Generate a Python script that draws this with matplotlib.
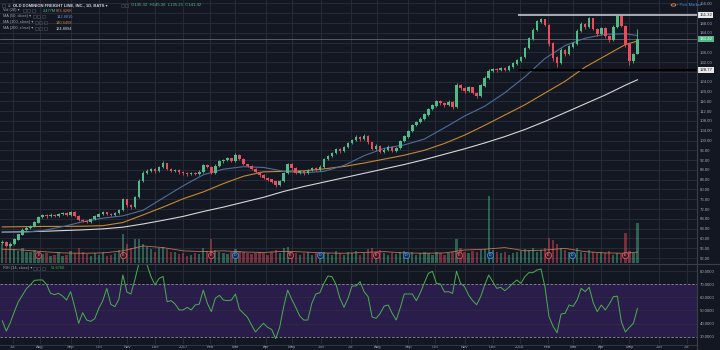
import numpy as np
import matplotlib
matplotlib.use("Agg")
import matplotlib.pyplot as plt
from matplotlib.patches import Rectangle
from matplotlib.transforms import blended_transform_factory

# ---------------- data ----------------
# session index: 0 = first trading day of Jul 2016; one candle per 3 sessions
FIRST_SESSION = -8
STEP = 3
first_open = 58.0

closes = [
    58.5, 57.0, 57.8, 59.5, 61.5, 63.5, 64.2, 64.8, 66.5, 68.8,
    69.5, 69.0, 69.6, 69.2, 69.8, 70.2, 69.5, 70.8, 69.2, 67.6,
    67.2, 66.9, 67.8, 68.9, 69.8, 70.6, 70.0, 69.5, 70.3, 71.5,
    75.8, 73.6, 72.8, 76.8, 83.5, 86.8, 87.6, 88.2, 87.4, 89.0,
    90.8, 88.2, 87.6, 87.9, 87.0, 86.6, 86.2, 86.8, 86.5, 87.2,
    89.8, 89.2, 86.8, 89.6, 91.5, 92.0, 92.6, 91.6, 94.0, 92.4,
    90.2, 89.6, 88.4, 87.2, 85.8, 84.6, 84.0, 83.2, 81.8, 83.4,
    86.6, 90.4, 88.6, 86.8, 87.4, 86.6, 87.8, 88.6, 87.9, 89.2,
    92.4, 93.6, 94.8, 96.4, 95.6, 97.2, 98.8, 100.2, 101.4, 100.6,
    101.8, 99.2, 96.6, 97.8, 95.4, 96.2, 97.4, 95.8, 96.8, 99.8,
    101.6, 103.8, 106.2, 107.4, 108.8, 110.6, 112.8, 114.2, 116.0, 115.2,
    114.4, 115.8, 113.6, 122.6, 121.4, 120.2, 121.6, 119.4, 118.2, 122.4,
    125.6, 128.4, 129.2, 128.6, 129.6, 128.9, 130.2, 131.4, 132.6, 134.0,
    137.8, 141.6, 145.2, 148.6, 149.4, 147.2, 139.6, 133.8, 131.6, 136.8,
    135.4, 138.4, 139.6, 144.8, 147.6, 146.2, 149.8, 145.6, 143.4, 145.8,
    142.6, 141.2, 146.4, 150.6, 146.8, 139.2, 132.4, 135.32, 141.42,
]
highs = [
    59.2, 58.9, 58.4, 60.1, 62.0, 64.1, 64.9, 65.4, 67.1, 69.3,
    70.1, 70.0, 70.2, 70.0, 70.4, 70.8, 70.6, 71.4, 71.0, 69.5,
    68.0, 67.6, 68.3, 69.4, 70.3, 71.2, 70.9, 70.4, 70.8, 72.1,
    76.6, 76.2, 74.0, 77.4, 84.2, 87.5, 88.3, 88.9, 88.6, 89.6,
    91.6, 91.0, 88.6, 88.5, 88.2, 87.4, 87.0, 87.3, 87.2, 87.8,
    90.5, 90.3, 89.5, 90.2, 92.1, 92.6, 93.2, 92.9, 94.8, 94.3,
    92.7, 90.6, 89.9, 88.8, 87.5, 86.2, 85.0, 84.4, 83.5, 83.9,
    87.2, 91.0, 90.8, 89.0, 88.0, 87.8, 88.4, 89.2, 89.0, 89.8,
    93.0, 94.2, 95.4, 97.0, 96.9, 97.8, 99.4, 100.8, 102.1, 101.9,
    102.5, 102.1, 99.5, 98.4, 98.1, 96.8, 98.0, 97.7, 97.4, 100.4,
    102.2, 104.4, 106.8, 108.0, 109.4, 111.2, 113.4, 114.9, 116.7, 116.4,
    115.6, 116.4, 116.1, 123.6, 123.2, 121.8, 122.2, 121.9, 119.8, 123.0,
    126.2, 129.1, 129.8, 129.6, 130.2, 130.0, 130.8, 132.0, 133.2, 134.6,
    138.4, 142.3, 145.9, 149.3, 150.2, 149.8, 147.6, 140.2, 134.4, 137.6,
    137.4, 139.0, 140.4, 145.6, 148.3, 148.1, 150.6, 150.2, 146.1, 146.4,
    146.2, 143.2, 147.1, 151.3, 151.1, 147.3, 139.6, 135.9, 145.36,
]
lows = [
    57.6, 56.3, 56.6, 57.4, 59.2, 61.2, 63.0, 63.8, 64.5, 66.2,
    68.4, 68.5, 68.6, 68.8, 68.9, 69.4, 69.1, 69.2, 68.8, 67.1,
    66.6, 66.3, 66.5, 67.5, 68.6, 69.4, 69.5, 69.0, 69.1, 70.0,
    71.2, 73.0, 72.2, 72.5, 76.5, 83.1, 86.2, 87.1, 86.8, 87.0,
    88.7, 87.8, 87.0, 87.1, 86.5, 86.0, 85.7, 85.8, 86.0, 86.1,
    86.9, 88.7, 86.2, 86.5, 89.2, 91.0, 91.6, 91.1, 91.3, 91.9,
    89.8, 89.0, 87.9, 86.7, 85.2, 84.1, 83.4, 82.7, 81.2, 81.5,
    83.1, 86.3, 88.0, 86.3, 86.3, 86.1, 86.2, 87.4, 87.4, 87.6,
    88.9, 92.0, 93.2, 94.4, 95.0, 95.2, 96.8, 98.4, 99.8, 100.0,
    100.2, 98.6, 96.0, 96.2, 94.8, 94.9, 95.8, 95.2, 95.3, 96.5,
    99.4, 101.2, 103.4, 105.8, 107.0, 108.4, 110.2, 112.4, 113.8, 114.6,
    113.8, 114.0, 112.9, 113.2, 120.8, 119.6, 119.8, 118.8, 117.4, 117.9,
    122.0, 125.2, 127.9, 128.0, 128.2, 128.3, 128.5, 129.8, 131.0, 132.2,
    133.7, 137.4, 141.2, 144.8, 148.0, 146.6, 138.8, 132.4, 130.2, 131.2,
    134.6, 135.0, 137.8, 139.2, 144.3, 145.6, 145.8, 145.0, 142.8, 143.0,
    141.9, 140.4, 140.8, 146.0, 146.2, 138.4, 131.0, 131.8, 135.25,
]
# daily volume, millions of shares
volumes = [
    1.15, 0.95, 1.05, 0.85, 0.75, 0.9, 0.65, 0.7, 0.8, 0.6,
    0.55, 0.6, 0.45, 0.5, 0.7, 0.45, 0.5, 0.75, 0.6, 0.9,
    0.65, 0.55, 0.45, 0.6, 0.5, 0.7, 0.45, 0.5, 0.6, 0.8,
    1.8, 1.2, 0.95, 1.45, 1.5, 1.2, 1.0, 0.85, 0.7, 0.9,
    1.0, 0.85, 0.65, 0.7, 0.55, 0.6, 0.45, 0.5, 0.6, 0.55,
    0.95, 0.75, 1.45, 0.8, 0.7, 0.6, 0.55, 0.65, 0.85, 0.75,
    0.7, 0.6, 0.55, 0.6, 0.7, 0.6, 0.5, 0.65, 0.8, 0.6,
    0.9, 1.0, 0.7, 0.6, 0.5, 0.6, 0.65, 0.5, 0.6, 0.5,
    0.7, 0.6, 0.5, 0.75, 0.6, 0.5, 0.65, 0.6, 0.75, 0.5,
    0.6, 0.85, 0.95, 0.7, 0.8, 0.6, 0.5, 0.6, 0.55, 0.7,
    0.75, 0.6, 0.7, 0.5, 0.6, 0.65, 0.6, 0.5, 0.7, 0.6,
    0.5, 0.6, 0.7, 1.5, 0.9, 0.7, 0.6, 0.75, 0.7, 0.8,
    0.85, 4.1, 0.8, 0.7, 0.6, 0.65, 0.5, 0.6, 0.7, 0.75,
    0.85, 0.8, 0.95, 0.7, 0.8, 0.9, 1.55, 1.4, 1.2, 0.9,
    0.8, 0.7, 0.6, 0.9, 0.7, 0.6, 0.8, 0.7, 0.6, 0.65,
    0.6, 0.75, 0.5, 0.6, 0.55, 1.85, 0.75, 0.6, 2.477,
]
rsi = [
    42.2, 34.3, 40.7, 49.1, 56.7, 61.6, 66.6, 69.7, 73.0, 73.3,
    73.3, 70.0, 63.1, 62.1, 63.1, 61.0, 58.0, 64.4, 52.9, 40.2,
    48.3, 42.7, 41.7, 43.7, 51.6, 57.5, 66.9, 54.7, 52.9, 58.5,
    77.1, 64.1, 62.6, 73.8, 86.0, 88.0, 85.0, 75.8, 69.4, 74.5,
    76.0, 56.7, 57.5, 54.9, 50.4, 50.4, 52.4, 50.4, 54.2, 54.9,
    65.6, 55.5, 49.1, 59.3, 61.6, 58.0, 57.5, 58.0, 62.6, 50.9,
    47.8, 44.8, 38.9, 33.6, 37.1, 40.2, 37.1, 35.6, 28.5, 37.1,
    52.9, 65.6, 58.5, 52.4, 45.8, 42.7, 42.7, 55.5, 62.6, 63.6,
    70.7, 76.3, 75.8, 70.0, 59.3, 52.4, 59.3, 68.7, 68.7, 72.0,
    64.4, 60.5, 45.0, 44.0, 47.8, 53.4, 54.2, 47.8, 42.7, 52.0,
    62.6, 62.6, 62.6, 57.5, 63.6, 71.2, 78.4, 79.9, 70.7, 70.2,
    64.1, 64.4, 63.0, 80.0, 70.7, 68.2, 61.8, 57.5, 54.4, 60.5,
    69.4, 77.1, 72.0, 66.9, 67.7, 65.1, 67.7, 70.7, 73.3, 70.7,
    75.8, 78.9, 78.9, 80.9, 81.7, 68.0, 45.3, 38.0, 33.0, 47.3,
    47.8, 54.2, 53.2, 58.0, 66.9, 64.4, 67.7, 56.0, 49.1, 54.2,
    50.4, 54.9, 60.5, 61.0, 41.4, 33.6, 37.1, 40.2, 51.676,
]
# moving averages, one value every 5th candle plus the last candle
MA_EVERY = 5
ma50 = [62.7, 62.5, 63.2, 64.8, 66.8, 68.3, 69.2, 71.5, 76.5, 81.5,
        86.0, 88.3, 89.3, 89.0, 87.4, 86.8, 87.4, 89.8, 93.8, 96.8,
        98.2, 100.6, 105.2, 110.0, 114.0, 119.5, 126.0, 133.5, 138.8, 141.8,
        143.4, 143.6, 142.881]
ma100 = [64.7, 64.8, 64.9, 64.9, 65.0, 65.2, 66.5, 69.6, 72.8, 76.2,
         79.0, 82.4, 85.4, 87.2, 87.4, 87.6, 88.4, 89.4, 90.8, 92.4,
         94.0, 96.0, 98.8, 102.2, 106.2, 110.4, 114.6, 119.4, 124.2, 130.0,
         134.6, 139.2, 140.6498]
ma200 = [62.6, 62.7, 62.9, 63.2, 63.5, 63.9, 64.6, 65.9, 67.4, 69.0,
         71.0, 72.8, 74.8, 76.8, 79.2, 81.2, 83.0, 84.8, 86.6, 88.4,
         90.2, 92.2, 94.4, 96.6, 99.0, 101.6, 104.5, 107.8, 111.4, 115.0,
         118.6, 122.6, 124.8094]
vol_ma = [0.85, 0.8, 0.7, 0.62, 0.6, 0.62, 0.75, 1.05, 0.95, 0.75,
          0.7, 0.75, 0.68, 0.65, 0.72, 0.68, 0.62, 0.6, 0.65, 0.7,
          0.62, 0.6, 0.62, 0.8, 0.85, 0.95, 0.75, 0.8, 0.9, 0.7,
          0.62, 0.6, 0.673426]

month_sessions = [0, 20, 43, 64, 85, 106, 127, 147, 166, 189, 208, 230, 252,
                  272, 295, 315, 337, 358, 378, 399, 418, 439, 460, 482, 503]
month_labels = ["Jul", "Aug", "Sep", "Oct", "Nov", "Dec", "2017", "Feb", "Mar",
                "Apr", "May", "Jun", "Jul", "Aug", "Sep", "Oct", "Nov", "Dec",
                "2018", "Feb", "Mar", "Apr", "May", "Jun", "Jul"]
earnings_sessions = [19, 82, 148, 207, 271, 333, 399, 457]
dividend_sessions = [166, 229, 293, 356, 417]

resistance = 151.32
support = 128.77
level_start_session = 377

price_ticks = list(range(52, 157, 4))
rsi_ticks = [30, 40, 50, 60, 70, 80]

# ---------------- style ----------------
BG = "#131722"
GRID = "#2a2e3b"
TEXT = "#a3a6af"
UP = "#53b987"
DOWN = "#eb4d5c"
C_MA50 = "#4f6d9a"
C_MA100 = "#c7882e"
C_MA200 = "#d6d6d6"
C_VOLMA = "#d9825b"
RSI_LINE = "#4caf50"
RSI_BAND = "#2a1d4c"
plt.rcParams["font.family"] = ["Liberation Sans", "DejaVu Sans"]

W, H = 720, 350
fig = plt.figure(figsize=(W / 100, H / 100), dpi=100, facecolor=BG)


def axes_px(x0, y0, x1, y1, **kw):
    return fig.add_axes([x0 / W, 1 - y1 / H, (x1 - x0) / W, (y1 - y0) / H], **kw)


PLOT_RIGHT = 697
# horizontal mapping: pixel = 13 + 1.34 * session
X_LEFT = -13 / 1.34
X_RIGHT = (PLOT_RIGHT - 13) / 1.34
P_MIN, P_MAX = 49.96, 157.4
VOL_TOP = 16.2
AXIS_FS = 3.1

closes = np.array(closes)
highs = np.array(highs)
lows = np.array(lows)
volumes = np.array(volumes)
opens = np.r_[first_open, closes[:-1]]
n = len(closes)
sessions = FIRST_SESSION + STEP * np.arange(n)
ma_idx = list(range(0, n, MA_EVERY))
if ma_idx[-1] != n - 1:
    ma_idx.append(n - 1)
ma_sessions = sessions[ma_idx]
up = closes >= opens
colors = np.where(up, UP, DOWN)
last = closes[-1]

# volume pane sits under the price pane
vax = axes_px(0, 0, PLOT_RIGHT, 263, facecolor=BG)
ax = axes_px(0, 0, PLOT_RIGHT, 263, facecolor="none")
rax = axes_px(0, 264, PLOT_RIGHT, 344, facecolor=BG)

for a in (vax, ax, rax):
    a.set_xlim(X_LEFT, X_RIGHT)
    for s in a.spines.values():
        s.set_visible(False)

# grid on the bottom layer (price levels expressed in volume-axis units)
vax.set_ylim(0, VOL_TOP)
for ms in month_sessions:
    vax.axvline(ms, color=GRID, lw=0.6, zorder=0)
    rax.axvline(ms, color=GRID, lw=0.6, zorder=0)
for p in price_ticks:
    vax.axhline((p - P_MIN) / (P_MAX - P_MIN) * VOL_TOP, color=GRID, lw=0.6, zorder=0)

vax.set_yticks([])
vax.set_xticks([])
vax.bar(sessions, volumes, width=1.7, color=colors, alpha=0.45, lw=0, zorder=1)
vax.plot(ma_sessions, vol_ma, color=C_VOLMA, lw=0.6, alpha=0.85, zorder=2)

# event markers along the bottom of the price pane
mk = blended_transform_factory(vax.transData, vax.transAxes)
for es in earnings_sessions:
    vax.scatter([es], [0.032], s=20, transform=mk, facecolor="#3a1d27",
                edgecolor=DOWN, lw=0.6, zorder=3)
    vax.text(es, 0.032, "E", transform=mk, fontsize=2.6, color="#f0a0a8",
             ha="center", va="center", zorder=4)
for ds in dividend_sessions:
    vax.scatter([ds], [0.032], s=20, transform=mk, facecolor="#17304f",
                edgecolor="#3f8ae0", lw=0.6, zorder=3)
    vax.text(ds, 0.032, "D", transform=mk, fontsize=2.6, color="#9cc4f0",
             ha="center", va="center", zorder=4)

# price pane
ax.set_ylim(P_MIN, P_MAX)
ax.vlines(sessions, lows, highs, colors=colors, lw=0.6, zorder=3)
ax.bar(sessions, np.abs(closes - opens) + 0.12, bottom=np.minimum(opens, closes),
       width=1.9, color=colors, lw=0, zorder=4)
ax.plot(ma_sessions, ma200, color=C_MA200, lw=0.8, zorder=2)
ax.plot(ma_sessions, ma100, color=C_MA100, lw=0.8, zorder=2)
ax.plot(ma_sessions, ma50, color=C_MA50, lw=0.8, zorder=2)

ax.axhline(last, color="#8c8f99", lw=0.5, alpha=0.8, zorder=1)
ax.hlines(resistance, level_start_session, X_RIGHT, color="#d1d4dc", lw=1.1, zorder=5)
ax.hlines(support, level_start_session, X_RIGHT, color="#000000", lw=1.5, zorder=5)

# price scale: ticks hidden behind the value tags are left unlabeled
tags = [resistance, last, support]
ax.yaxis.tick_right()
ax.set_yticks(price_ticks)
ax.set_yticklabels(["" if min(abs(p - t) for t in tags) < 1.9 else f"{p:.2f}"
                    for p in price_ticks])
ax.tick_params(axis="y", length=0, pad=2.2, labelsize=AXIS_FS, labelcolor=TEXT)
ax.set_xticks([])


def price_tag(axis, value, text, fc, tc):
    axis.annotate(text, xy=(1, value), xycoords=("axes fraction", "data"),
                  xytext=(1.6, 0), textcoords="offset points", ha="left",
                  va="center", fontsize=AXIS_FS, color=tc, annotation_clip=False,
                  bbox=dict(boxstyle="square,pad=0.3", fc=fc, ec="none"))


price_tag(ax, resistance, f"{resistance:.2f}", "#e9e9ec", "#131722")
price_tag(ax, last, f"{last:.2f}", UP, "#ffffff")
price_tag(ax, support, f"{support:.2f}", "#e9e9ec", "#131722")

# RSI pane
rax.set_ylim(24.4, 85.5)
rax.axhspan(30, 70, color=RSI_BAND, lw=0, zorder=0.5)
for v in (40, 50, 60, 80):
    rax.axhline(v, color=GRID, lw=0.6, zorder=0.6)
for v in (30, 70):
    rax.axhline(v, color="#8a8d97", lw=0.6, ls=(0, (3, 2)), zorder=1)
rax.plot(sessions, rsi, color=RSI_LINE, lw=0.7, zorder=2)
rax.yaxis.tick_right()
rax.set_yticks(rsi_ticks)
rax.set_yticklabels([f"{v:.4f}" for v in rsi_ticks])
rax.tick_params(axis="y", length=0, pad=2.2, labelsize=AXIS_FS, labelcolor=TEXT)
rax.set_xticks(month_sessions)
rax.set_xticklabels(month_labels)
rax.tick_params(axis="x", length=0, pad=1.0, labelsize=AXIS_FS, labelcolor=TEXT)

# pane borders
fig.add_artist(plt.Line2D([PLOT_RIGHT / W] * 2, [0, 1], color="#3a3e4a", lw=0.8))
fig.add_artist(plt.Line2D([0, 1], [1 - 263.5 / H] * 2, color="#3a3e4a", lw=0.8))
fig.add_artist(plt.Line2D([0, PLOT_RIGHT / W], [1 - 344.5 / H] * 2, color="#3a3e4a", lw=0.6))


# legend block
def ftext(x, y, s, color=TEXT, size=2.8, weight="normal"):
    fig.text(x / W, 1 - y / H, s, color=color, fontsize=size, fontweight=weight,
             ha="left", va="center")


def boxes(x, y, k=3):
    for i in range(k):
        fig.add_artist(Rectangle(((x + i * 4.4) / W, 1 - (y + 1.5) / H), 3.0 / W, 3.0 / H,
                                 fill=False, ec="#4a4e5a", lw=0.4))


boxes(2, 5, 1)
ftext(8, 5, "\u2261", size=3.2)
ftext(13, 5, "OLD DOMINION FREIGHT LINE, INC., 1D, BATS \u25be", color="#d1d4dc",
      size=3.0, weight="bold")
boxes(121, 5, 2)
ftext(131, 5, f"O{opens[-1]:.2f}  H{highs[-1]:.2f}  L{lows[-1]:.2f}  C{last:.2f}",
      color=UP, size=3.1)
ftext(3, 10.5, "Vol (20) \u25be")
boxes(23, 10.5)
ftext(43, 10.5, f"{volumes[-1]:.3f}M", color=UP)
ftext(56, 10.5, f"{vol_ma[-1] * 1000:.3f}K", color=C_VOLMA)
ftext(3, 16.5, "MA (50, close) \u25be")
boxes(33, 16.5)
ftext(57, 16.5, f"{ma50[-1]:.4f}", color="#6f8fc0")
ftext(3, 22.5, "MA (100, close) \u25be")
boxes(35, 22.5)
ftext(56, 22.5, f"{ma100[-1]:.4f}", color=C_MA100)
ftext(3, 28.5, "MA (200, close) \u25be")
boxes(35, 28.5)
ftext(56, 28.5, f"{ma200[-1]:.4f}", color=C_MA200)
ftext(3, 268, "RSI (14, close) \u25be")
boxes(33, 268)
ftext(51, 268, f"{rsi[-1]:.4f}", color=RSI_LINE)

# session status
fig.add_artist(plt.Circle((673.5 / W, 1 - 5 / H), 2.4 / W, fill=False, ec="#f0883e", lw=0.6))
ftext(677, 5, "\u2022 Post Market", color="#3d8fe0", size=2.9)

fig.savefig("out.png", dpi=100, facecolor=BG)
